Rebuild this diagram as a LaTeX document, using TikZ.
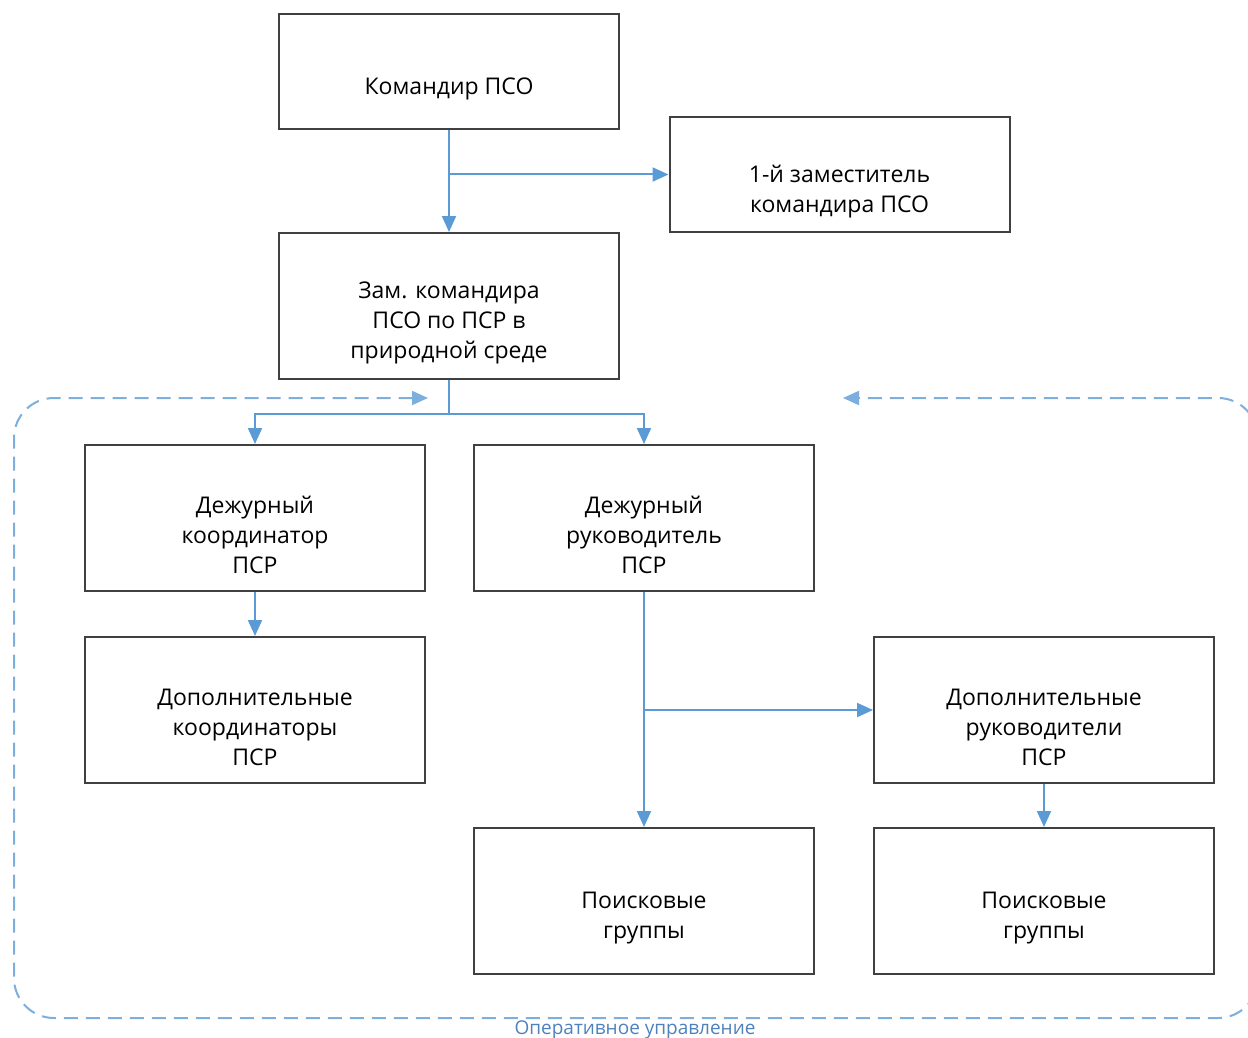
\documentclass[tikz,border=0pt]{standalone}
\usepackage{fontspec}
\setmainfont{Open Sans}
\usetikzlibrary{arrows.meta}
\definecolor{lineblue}{HTML}{5B9BD5}
\definecolor{boxgray}{HTML}{404040}
\definecolor{captblue}{HTML}{4F81BD}
\tikzset{
  box/.style={draw=boxgray, line width=1pt, minimum width=170pt, minimum height=73pt, inner sep=0pt},
  boxtext/.style={yshift=-8.5pt, align=center, font=\fontsize{11.5}{15}\selectfont},
  conn/.style={draw=lineblue, line width=1pt, -{Triangle[length=8pt,width=7pt]}},
  opline/.style={draw=lineblue!80, line width=1pt, dash pattern=on 7pt off 4pt, rounded corners=20pt}
}
\begin{document}
\begin{tikzpicture}[x=0.5pt,y=-0.5pt]
\useasboundingbox (0,0) rectangle (1248,1038);
% boxes
\node[box, minimum height=57.5pt, label={[boxtext]center:{Командир ПСО}}] (kom) at (449,71.5) {};
\node[box, minimum height=57.5pt, label={[boxtext]center:{1-й заместитель\\командира ПСО}}] (zam1) at (839.5,174.5) {};
\node[box, label={[boxtext]center:{Зам. командира\\ПСО по ПСР в\\природной среде}}] (zam) at (449,306) {};
\node[box, label={[boxtext]center:{Дежурный\\координатор\\ПСР}}] (dkoord) at (255,518) {};
\node[box, label={[boxtext]center:{Дежурный\\руководитель\\ПСР}}] (druk) at (644,518) {};
\node[box, label={[boxtext]center:{Дополнительные\\координаторы\\ПСР}}] (dopkoord) at (255,710) {};
\node[box, label={[boxtext]center:{Дополнительные\\руководители\\ПСР}}] (dopruk) at (1044,710) {};
\node[box, label={[boxtext]center:{Поисковые\\группы}}] (poisk1) at (644,901) {};
\node[box, label={[boxtext]center:{Поисковые\\группы}}] (poisk2) at (1044,901) {};
% connectors
\draw[conn] (kom.south) -- (zam.north);
\draw[conn] (kom.south |- zam1.west) -- (zam1.west);
\draw[conn] (zam.south) -- ++(0,34) -| (dkoord.north);
\draw[conn] (zam.south) -- ++(0,34) -| (druk.north);
\draw[conn] (dkoord) -- (dopkoord);
\draw[conn] (druk) -- (poisk1);
\draw[conn] (druk.south |- dopruk.west) -- (dopruk.west);
\draw[conn] (dopruk) -- (poisk2);
% operative area
\coordinate (gapL) at (428,398);
\coordinate (gapR) at (843,398);
\draw[opline, {Triangle[length=8pt,width=7pt]}-{Triangle[length=8pt,width=7pt]}] (gapL) -- (14,398) -- (14,1018) -- (1258,1018) -- (1258,398) -- (gapR);
\node[text=captblue, font=\fontsize{9.5}{11}\selectfont] (oper) at (635,1030) {Оперативное управление};
\end{tikzpicture}
\end{document}
